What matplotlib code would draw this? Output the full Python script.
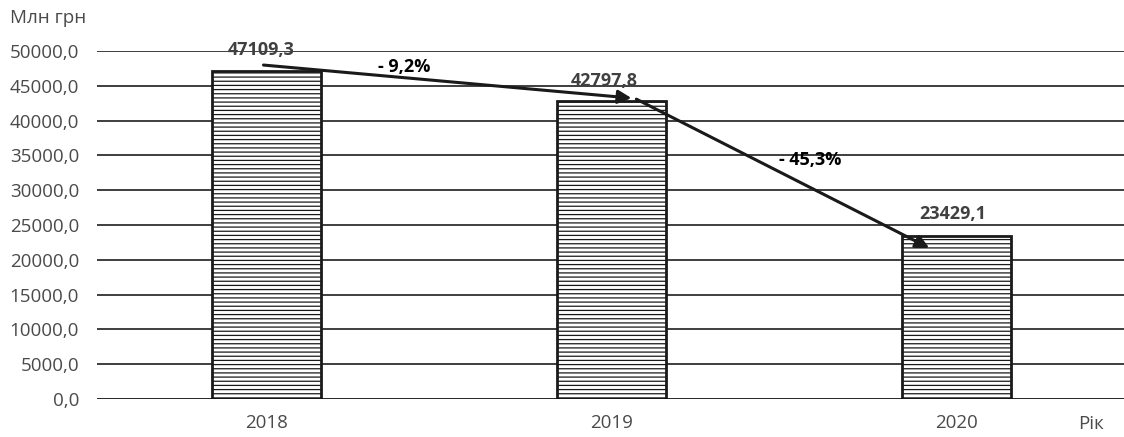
import matplotlib
matplotlib.use('Agg')
import matplotlib.pyplot as plt
import numpy as np

#chart data
years = ['2018', '2019', '2020']
values = [47109.3, 42797.8, 23429.1]
value_labels = ['47109,3', '42797,8', '23429,1']
change_labels = ['- 9,2%', '- 45,3%']
yticks = [0, 5000, 10000, 15000, 20000, 25000, 30000, 35000, 40000, 45000, 50000]

plt.rcParams['font.family'] = ['Open Sans', 'DejaVu Sans']
plt.rcParams['hatch.linewidth'] = 0.9
plt.rcParams['hatch.color'] = '#303030'

fig = plt.figure(figsize=(11.24, 4.37), dpi=100)
ax = fig.add_axes([0.0863, 0.087, 0.9137, 0.796])

x = np.arange(len(years))

#gridlines first so bars cover them
for t in yticks[1:]:
    ax.axhline(t, color='#1e1e1e', lw=1.2, zorder=1)
ax.axhline(0, color='#111111', lw=2.0, zorder=4)

ax.bar(x, values, width=0.316, color='white', edgecolor='#1a1a1a',
       linewidth=2.0, hatch='----', zorder=3)

#value labels above bars
label_pos = [(-0.017, 50100), (0.98, 45700), (1.99, 26600)]
for (lx, ly), txt in zip(label_pos, value_labels):
    ax.text(lx, ly, txt, ha='center', va='center', fontsize=13,
            fontweight='bold', color='#404040', zorder=5)

#trend arrows
arrow_pts = [((-0.01, 48000), (1.058, 43250)),
             ((1.072, 43100), (1.922, 21700))]
for start, end in arrow_pts:
    ax.annotate('', xy=end, xytext=start,
                arrowprops=dict(arrowstyle='-|>', lw=2.2, color='#1a1a1a',
                                mutation_scale=20, shrinkA=0, shrinkB=0),
                zorder=6)

#percentage changes
change_pos = [(0.397, 47700), (1.577, 34300)]
for (cx, cy), txt in zip(change_pos, change_labels):
    ax.text(cx, cy, txt, ha='center', va='center', fontsize=13,
            fontweight='bold', color='black', zorder=7)

ax.set_xlim(-0.493, 2.487)
ax.set_ylim(0, 50000)
ax.set_xticks(x)
ax.set_xticklabels(years)
ax.set_yticks(yticks)
ax.set_yticklabels(['{:.1f}'.format(t).replace('.', ',') for t in yticks])
ax.tick_params(axis='both', length=0, labelsize=13.5, labelcolor='#4a4a4a')
ax.tick_params(axis='y', pad=13)
ax.tick_params(axis='x', pad=11)
for s in ax.spines.values():
    s.set_visible(False)

fig.text(10 / 1124, 1 - 18 / 437, 'Млн грн', fontsize=13.5, color='#4a4a4a',
         ha='left', va='center')
fig.text(1091 / 1124, 1 - 424 / 437, 'Рік', fontsize=13.5, color='#4a4a4a',
         ha='center', va='center')

fig.savefig('out.png', dpi=100)
